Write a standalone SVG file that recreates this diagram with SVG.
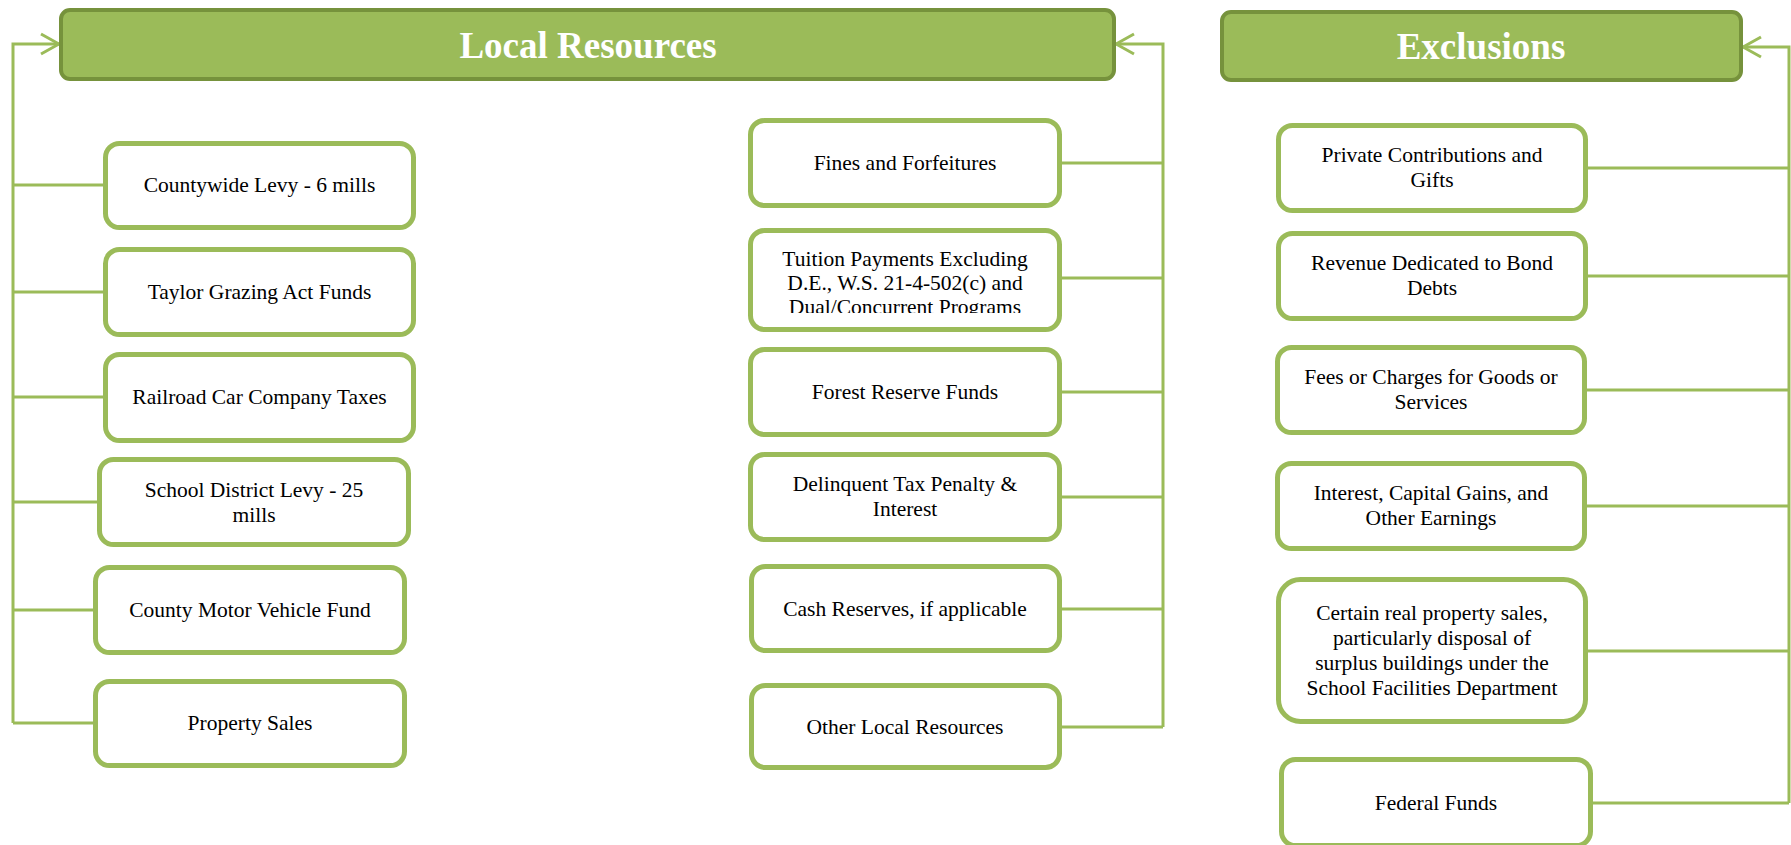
<svg xmlns="http://www.w3.org/2000/svg" width="1791" height="845" viewBox="0 0 1791 845">
<style>
.hdr{fill:#9BBB59;stroke:#76923C;stroke-width:4}
.htxt{font-family:"Liberation Serif","Times New Roman",serif;font-weight:bold;font-size:37px;fill:#FFFFFF;text-anchor:middle}
.box{fill:#FFFFFF;stroke:#9BBB59;stroke-width:5}
.t{font-family:"Liberation Serif","Times New Roman",serif;font-size:21.5px;fill:#000000;text-anchor:middle}
.con{fill:none;stroke:#9BBB59;stroke-width:3}
</style>
<defs>
<marker id="chev" viewBox="0 0 22 24" refX="20" refY="12" markerWidth="22" markerHeight="24" markerUnits="userSpaceOnUse" orient="auto">
<path d="M2,2 L20,12 L2,22" fill="none" stroke="#9BBB59" stroke-width="3"/>
</marker>
<clipPath id="clipTuition"><rect x="750" y="230" width="310" height="83"/></clipPath>
</defs>
<rect width="1791" height="845" fill="#FFFFFF"/>

<g id="connectors">
<path class="con" d="M13,723 L13,44 L59,44" marker-end="url(#chev)"/>
<path class="con" d="M13,185 L103,185 M13,292 L103,292 M13,397 L103,397 M13,502 L97,502 M13,610 L93,610 M13,723 L93,723"/>
<path class="con" d="M1163,727 L1163,44 L1116,44" marker-end="url(#chev)"/>
<path class="con" d="M1062,163 L1163,163 M1062,278 L1163,278 M1062,392 L1163,392 M1062,497 L1163,497 M1062,609 L1163,609 M1062,727 L1163,727"/>
<path class="con" d="M1789,803 L1789,47 L1743,47" marker-end="url(#chev)"/>
<path class="con" d="M1588,168 L1789,168 M1588,276 L1789,276 M1587,390 L1789,390 M1587,506 L1789,506 M1588,651 L1789,651 M1593,803 L1789,803"/>
</g>

<g id="local-resources">
<rect class="hdr" x="61" y="10" width="1053" height="69" rx="9"/>
<text class="htxt" x="588" y="58">Local Resources</text>
</g>
<g id="exclusions">
<rect class="hdr" x="1222" y="12" width="519" height="68" rx="9"/>
<text class="htxt" x="1481" y="59">Exclusions</text>
</g>

<g id="countywide-levy">
<rect class="box" x="105.5" y="143.5" width="308" height="84" rx="14"/>
<text class="t" x="259.5" y="192">Countywide Levy - 6 mills</text>
</g>
<g id="taylor-grazing">
<rect class="box" x="105.5" y="249.5" width="308" height="85" rx="14"/>
<text class="t" x="259.5" y="299">Taylor Grazing Act Funds</text>
</g>
<g id="railroad-car">
<rect class="box" x="105.5" y="354.5" width="308" height="86" rx="14"/>
<text class="t" x="259.5" y="404">Railroad Car Company Taxes</text>
</g>
<g id="school-district-levy">
<rect class="box" x="99.5" y="459.5" width="309" height="85" rx="14"/>
<text class="t" x="254" y="497">School District Levy - 25</text>
<text class="t" x="254" y="522">mills</text>
</g>
<g id="county-motor-vehicle">
<rect class="box" x="95.5" y="567.5" width="309" height="85" rx="14"/>
<text class="t" x="250" y="617">County Motor Vehicle Fund</text>
</g>
<g id="property-sales">
<rect class="box" x="95.5" y="681.5" width="309" height="84" rx="14"/>
<text class="t" x="250" y="730">Property Sales</text>
</g>

<g id="fines-forfeitures">
<rect class="box" x="750.5" y="120.5" width="309" height="85" rx="14"/>
<text class="t" x="905" y="170">Fines and Forfeitures</text>
</g>
<g id="tuition-payments">
<rect class="box" x="750.5" y="230.5" width="309" height="99" rx="14"/>
<g clip-path="url(#clipTuition)">
<text class="t" x="905" y="266">Tuition Payments Excluding</text>
<text class="t" x="905" y="290">D.E., W.S. 21-4-502(c) and</text>
<text class="t" x="905" y="314">Dual/Concurrent Programs</text>
</g>
</g>
<g id="forest-reserve">
<rect class="box" x="750.5" y="349.5" width="309" height="85" rx="14"/>
<text class="t" x="905" y="399">Forest Reserve Funds</text>
</g>
<g id="delinquent-tax">
<rect class="box" x="750.5" y="454.5" width="309" height="85" rx="14"/>
<text class="t" x="905" y="491">Delinquent Tax Penalty &amp;</text>
<text class="t" x="905" y="516">Interest</text>
</g>
<g id="cash-reserves">
<rect class="box" x="751.5" y="566.5" width="308" height="84" rx="14"/>
<text class="t" x="905" y="616">Cash Reserves, if applicable</text>
</g>
<g id="other-local">
<rect class="box" x="751.5" y="685.5" width="308" height="82" rx="14"/>
<text class="t" x="905" y="734">Other Local Resources</text>
</g>

<g id="private-contributions">
<rect class="box" x="1278.5" y="125.5" width="307" height="85" rx="14"/>
<text class="t" x="1432" y="162">Private Contributions and</text>
<text class="t" x="1432" y="187">Gifts</text>
</g>
<g id="revenue-bond">
<rect class="box" x="1278.5" y="233.5" width="307" height="85" rx="14"/>
<text class="t" x="1432" y="270">Revenue Dedicated to Bond</text>
<text class="t" x="1432" y="295">Debts</text>
</g>
<g id="fees-charges">
<rect class="box" x="1277.5" y="347.5" width="307" height="85" rx="14"/>
<text class="t" x="1431" y="384">Fees or Charges for Goods or</text>
<text class="t" x="1431" y="409">Services</text>
</g>
<g id="interest-capital">
<rect class="box" x="1277.5" y="463.5" width="307" height="85" rx="14"/>
<text class="t" x="1431" y="500">Interest, Capital Gains, and</text>
<text class="t" x="1431" y="525">Other Earnings</text>
</g>
<g id="real-property-sales">
<rect class="box" x="1278.5" y="579.5" width="307" height="142" rx="22"/>
<text class="t" x="1432" y="620">Certain real property sales,</text>
<text class="t" x="1432" y="645">particularly disposal of</text>
<text class="t" x="1432" y="670">surplus buildings under the</text>
<text class="t" x="1432" y="695">School Facilities Department</text>
</g>
<g id="federal-funds">
<rect class="box" x="1281.5" y="759.5" width="309" height="86" rx="14"/>
<text class="t" x="1436" y="810">Federal Funds</text>
</g>
</svg>
